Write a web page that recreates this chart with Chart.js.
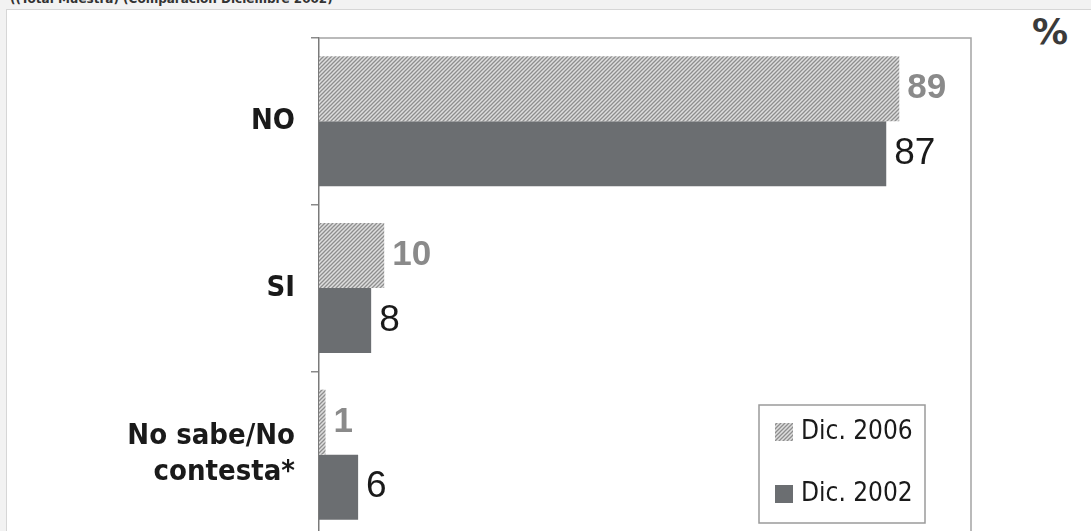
<!DOCTYPE html>
<html>
<head>
<meta charset="utf-8">
<script src="https://cdn.jsdelivr.net/npm/chart.js@4.4.1/dist/chart.umd.min.js"></script>
<style>
  html, body { margin: 0; padding: 0; overflow: hidden; background: #f2f2f2; }
  body { width: 1091px; height: 531px; position: relative; }
  #titulo {
    position: absolute; left: 10px; top: -8px;
    font: bold 12px "DejaVu Sans", sans-serif; color: #333; white-space: nowrap;
  }
  #panel {
    position: absolute; left: 6px; top: 9px; width: 1090px; height: 540px;
    background: #fff; border: 1px solid #d6d6d6;
  }
  #pct {
    position: absolute; left: 1032px; top: 11px;
    font: bold 36px "DejaVu Sans", sans-serif; color: #3a3a3a;
  }
  #wrap { position: absolute; left: 0; top: 0; }
</style>
</head>
<body>
<div id="titulo">((Total Muestra) (Comparación Diciembre 2002)</div>
<div id="panel"></div>
<div id="pct">%</div>
<div id="wrap"><canvas id="myChart" width="1091" height="545"></canvas></div>
<script>
const ctx = document.getElementById('myChart').getContext('2d');

// Datos
const categorias = ['NO', 'SI', ['No sabe/No', 'contesta*']];
const series = ['Dic. 2006', 'Dic. 2002'];
const dic2006 = [89, 10, 1];
const dic2002 = [87, 8, 6];

// Trama rayada para Dic. 2006
function rayado() {
    const c = document.createElement('canvas');
    c.width = 4; c.height = 4;
    const g = c.getContext('2d');
    g.fillStyle = '#dedede';
    g.fillRect(0, 0, 4, 4);
    g.strokeStyle = '#8e8e8e';
    g.lineWidth = 1.3;
    g.beginPath();
    g.moveTo(0, 4); g.lineTo(4, 0);
    g.moveTo(-1, 1); g.lineTo(1, -1);
    g.moveTo(3, 5); g.lineTo(5, 3);
    g.stroke();
    return g.createPattern(c, 'repeat');
}
const trama = rayado();
const gris = '#6b6e71';

// Borde superior y derecho del area
const marco = {
    id: 'marco',
    beforeDatasetsDraw(chart) {
        const a = chart.chartArea, c = chart.ctx;
        c.save();
        c.strokeStyle = '#a4a4a4';
        c.lineWidth = 1.5;
        c.beginPath();
        c.moveTo(a.left, a.top);
        c.lineTo(a.right, a.top);
        c.lineTo(a.right, a.bottom);
        c.stroke();
        c.restore();
    }
};

// Etiquetas de valor al final de cada barra
const valores = {
    id: 'valores',
    afterDatasetsDraw(chart) {
        const c = chart.ctx;
        c.save();
        c.textBaseline = 'middle';
        c.textAlign = 'left';
        chart.data.datasets.forEach((ds, i) => {
            const meta = chart.getDatasetMeta(i);
            c.font = i === 0 ? 'bold 35px "Liberation Sans Narrow", sans-serif' : '37px "Liberation Sans Narrow", sans-serif';
            c.fillStyle = i === 0 ? '#8a8a8a' : '#1a1a1a';
            meta.data.forEach((bar, j) => {
                c.fillText(ds.data[j], bar.x + 8, bar.y);
            });
        });
        c.restore();
    }
};

// Leyenda con recuadro dentro del area
const leyenda = {
    id: 'leyenda',
    afterDraw(chart) {
        const c = chart.ctx;
        const x = 759, y = 405, w = 166, h = 118;
        c.save();
        c.fillStyle = '#fff';
        c.fillRect(x, y, w, h);
        c.strokeStyle = '#9a9a9a';
        c.lineWidth = 1.5;
        c.strokeRect(x, y, w, h);
        c.font = '26px "DejaVu Sans Condensed", sans-serif';
        c.textBaseline = 'middle';
        chart.data.datasets.forEach((ds, i) => {
            const yy = y + 26 + i * 62;
            c.fillStyle = ds.backgroundColor;
            c.fillRect(x + 16, yy - 8, 18, 18);
            c.fillStyle = '#1a1a1a';
            c.fillText(ds.label, x + 42, yy + 1);
        });
        c.restore();
    }
};

const config = {
    type: 'bar',
    data: {
        labels: categorias,
        datasets: [
            { label: series[0], data: dic2006, backgroundColor: trama, borderWidth: 0 },
            { label: series[1], data: dic2002, backgroundColor: gris, borderWidth: 0 }
        ]
    },
    options: {
        indexAxis: 'y',
        responsive: false,
        animation: false,
        events: [],
        categoryPercentage: 0.78,
        barPercentage: 1.0,
        layout: { padding: { left: 0, top: 38, right: 120, bottom: 7 } },
        plugins: {
            legend: { display: false },
            tooltip: { enabled: false },
            title: { display: false }
        },
        scales: {
            x: { display: false, min: 0, max: 100 },
            y: {
                afterFit: s => {
                    s.width = 319;
                    s.paddingTop = 0;
                    s.paddingBottom = 0;
                },
                grid: {
                    display: true,
                    drawOnChartArea: false,
                    drawTicks: true,
                    tickLength: 8,
                    color: '#8a8a8a',
                    lineWidth: 1.5
                },
                border: { display: true, color: '#7a7a7a', width: 1.5 },
                ticks: {
                    padding: 16,
                    color: '#1a1a1a',
                    font: { size: 29, family: '"DejaVu Sans Condensed", sans-serif', weight: 'bold', lineHeight: 1.25 }
                }
            }
        }
    },
    plugins: [marco, valores, leyenda]
};

new Chart(ctx, config);
</script>
</body>
</html>
